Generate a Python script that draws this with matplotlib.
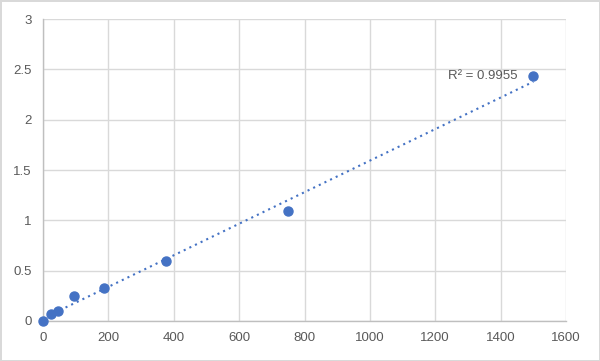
import numpy as np
import matplotlib.pyplot as plt

# Standard curve data
conc = [0, 23.44, 46.88, 93.75, 187.5, 375, 750, 1500]
od = [0.0, 0.07, 0.10, 0.25, 0.33, 0.60, 1.09, 2.43]
r2_label = 'R² = 0.9955'

xticks = np.arange(0, 1601, 200)
yticks = [0, 0.5, 1, 1.5, 2, 2.5, 3]
ytick_labels = ['0', '0.5', '1', '1.5', '2', '2.5', '3']

plt.rcParams['font.family'] = ['Liberation Sans', 'DejaVu Sans']

fig = plt.figure(figsize=(6, 3.61), dpi=100)
fig.patch.set_edgecolor('#D9D9D9')
fig.patch.set_linewidth(2)
ax = fig.add_axes([0.0717, 0.111, 0.8716, 0.836])

# linear trendline
slope, intercept = np.polyfit(conc, od, 1)
xfit = np.array([0, max(conc)])
ax.plot(xfit, slope * xfit + intercept, color='#4472C4', lw=1.5,
        linestyle=(0, (1, 2)), zorder=2)

ax.plot(conc, od, 'o', color='#4472C4', markersize=6.5, zorder=3, clip_on=False)

ax.text(1452, 2.38, r2_label, ha='right', va='bottom', fontsize=9.5, color='#595959')

ax.set_xlim(0, 1600)
ax.set_ylim(0, 3)
ax.set_xticks(xticks)
ax.set_yticks(yticks)
ax.set_yticklabels(ytick_labels)
ax.grid(True, color='#D9D9D9', lw=1)
ax.set_axisbelow(True)
for s in ['top', 'right']:
    ax.spines[s].set_visible(False)
for s in ['left', 'bottom']:
    ax.spines[s].set_color('#BFBFBF')
    ax.spines[s].set_linewidth(1)
ax.tick_params(length=0, labelsize=9.5, labelcolor='#595959', pad=8)

fig.savefig('out.png', dpi=100, edgecolor=fig.get_edgecolor())
